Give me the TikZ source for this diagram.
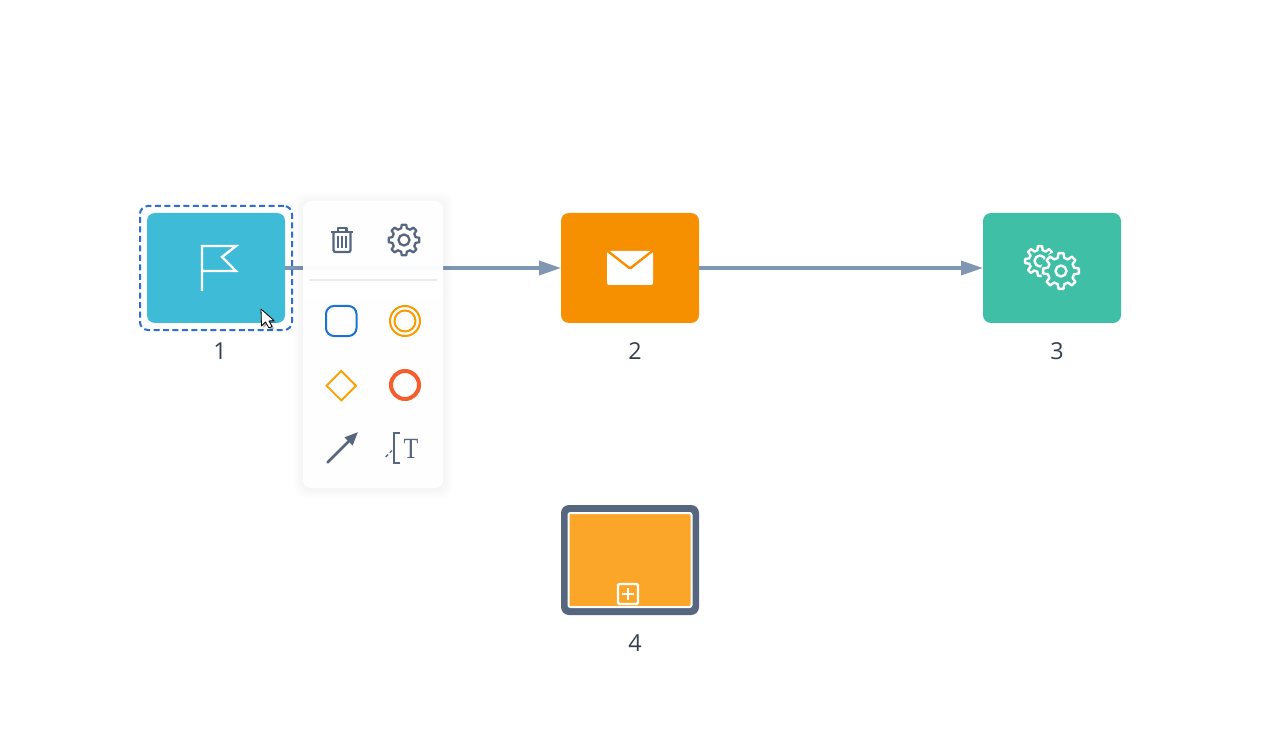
\documentclass[tikz,border=0pt]{standalone}
\usepackage{xcolor}
\usepackage{fontspec}
\setmainfont{Open Sans}
\newfontfamily\serifmark{Liberation Serif}
\usetikzlibrary{arrows.meta,positioning,fit}
\definecolor{startblue}{HTML}{3DBBD7}
\definecolor{mailorange}{HTML}{F79000}
\definecolor{taskteal}{HTML}{3FBFA6}
\definecolor{subamber}{HTML}{FCA629}
\definecolor{slate}{HTML}{56667F}
\definecolor{flowblue}{HTML}{8097B4}
\definecolor{selblue}{HTML}{2E6FCF}
\definecolor{toolblue}{HTML}{1A73D0}
\definecolor{toolred}{HTML}{F55D2C}
\definecolor{numink}{HTML}{333F4D}
% gear: centre, outer radius, root radius, hole radius, draw options
\newcommand{\cogwheel}[5]{%
  \draw[#5,shift={#1}] (-14:#3)
    \foreach \a in {0,45,...,315} {-- (\a-14:#3) -- (\a-8:#2) -- (\a+8:#2) -- (\a+14:#3)} -- cycle;
  \draw[#5,shift={#1}] (0,0) circle (#4);
}
\begin{document}
\begin{tikzpicture}[
  x=0.75pt,y=-0.75pt,
  box/.style={rectangle,rounded corners=6pt,minimum width=103.5pt,
    minimum height=82.5pt,outer sep=0pt,inner sep=0pt},
  numlabel/.style={font=\fontsize{17.5}{20}\selectfont,text=numink,inner sep=0pt},
  flow/.style={-{Triangle[length=16.5pt,width=10.5pt]},line width=2.6pt,color=flowblue,yshift=-.6pt},
  tool/.style={color=slate,line width=1.7pt},
  icon/.style={color=white,line width=1.8pt}
]
  \useasboundingbox (0,0) rectangle (1280,741);
  \fill[white] (0,0) rectangle (1280,741);

  \node[box,fill=startblue] (start) at (216,268) {};
  \node[box,fill=mailorange,right=207pt of start] (mail) {};
  \node[box,fill=taskteal,right=213pt of mail] (task) {};
  \node[box,fill=slate,below=136.5pt of mail] (sub) {};
  \node[rectangle,rounded corners=1.5pt,minimum width=92.25pt,minimum height=70.5pt,
    fill=subamber,draw=white,line width=1.5pt,outer sep=0pt] (subface) at (sub.center) {};

  \draw[flow] (start) -- (mail);
  \draw[flow] (mail) -- (task);

  \node[rectangle,rounded corners=6pt,draw=selblue,line width=1.5pt,
    dash pattern=on 4.5pt off 2.6pt,inner sep=5.25pt,fit=(start)] (selection) {};

  \node[numlabel] (num1) at (220,351) {1};
  \node[numlabel] (num2) at (635,351) {2};
  \node[numlabel] (num3) at (1057,351) {3};
  \node[numlabel] (num4) at (635,643) {4};

  % flag
  \draw[icon,miter limit=4] (202,291) -- (202,246) -- (236,246) -- (222,257) -- (236,271) -- (202,271);
  % envelope
  \fill[white,rounded corners=1.5pt] (607,251) rectangle (653,285);
  \draw[color=mailorange,line width=1.8pt,rounded corners=1pt] (607,250.5) -- (630,268.5) -- (653,250.5);
  % gears
  \cogwheel{(1040,261)}{15}{11}{5.5}{icon,line join=round}
  \fill[taskteal] (1061,271) circle (20);
  \cogwheel{(1061,271)}{18}{13.5}{5.5}{icon,fill=taskteal,line join=round}
  % expand marker
  \draw[icon,rounded corners=1pt] (618,584) rectangle (638,604);
  \draw[icon] (622,594) -- (634,594) (628,588) -- (628,600);

  % cursor
  \fill[black,opacity=.3] (263,311) -- (263.5,328) -- (267.5,324) -- (271,330) -- (274,328.5) -- (271,323) -- (276,322.5) -- cycle;
  \draw[black,fill=white,line width=.6pt,line join=round] (261,309) -- (261.5,326) -- (265.5,322) -- (269,328) -- (272,326.5) -- (269,321) -- (274,320.5) -- cycle;

  % tool menu
  \foreach \g in {1,...,10}
    \fill[black,opacity=.005,rounded corners=8pt] (303-\g,202-\g) rectangle (443+\g,489+\g);
  \node[rectangle,rounded corners=6pt,minimum width=105pt,minimum height=215.25pt,
    fill=white,fill opacity=.97,outer sep=0pt] (menu) at (373,344.5) {};
  \fill[white] (303,285) rectangle (443,300);
  \draw[color=black!8,line width=1.5pt] (309,280.5) -- (437,280.5);

  % trash
  \draw[tool,line join=round] (331,232) -- (353,232) (337.7,232) -- (337.7,228) -- (346.5,228) -- (346.5,232);
  \draw[tool,rounded corners=1.5pt] (333.5,232) -- (333.5,252) -- (350.5,252) -- (350.5,232);
  \draw[tool,line width=1.3pt] (338.3,236) -- (338.3,248) (342,236) -- (342,248) (346,236) -- (346,248);
  \cogwheel{(404,240)}{15.5}{12}{5.5}{tool,line join=round}

  % shapes
  \draw[color=toolblue,line width=1.5pt,rounded corners=6pt] (326,306) rectangle (356.5,336);
  \draw[color=mailorange!90!yellow,line width=1.5pt] (405,321) circle (15) (405,321) circle (10.5);
  \draw[color=mailorange!85!yellow,line width=1.4pt] (341.3,371) -- (356,385.7) -- (341.3,400.4) -- (326.6,385.7) -- cycle;
  \draw[color=toolred,line width=3pt] (405,385) circle (14);

  % connector and annotation tools
  \draw[color=slate,line width=2pt,line cap=round,-{Triangle[length=10pt,width=8pt]}] (327.5,462.5) -- (358,432);
  \draw[tool] (400,433) -- (394,433) -- (394,463) -- (400,463);
  \draw[tool,line width=1pt,dash pattern=on 2.5pt off 2pt] (385.7,457) -- (392,450.5);
  \node[font=\serifmark\fontsize{22}{24}\selectfont,text=slate,inner sep=0pt,transform shape,xscale=.82] (textmark) at (411,449) {T};
\end{tikzpicture}
\end{document}
